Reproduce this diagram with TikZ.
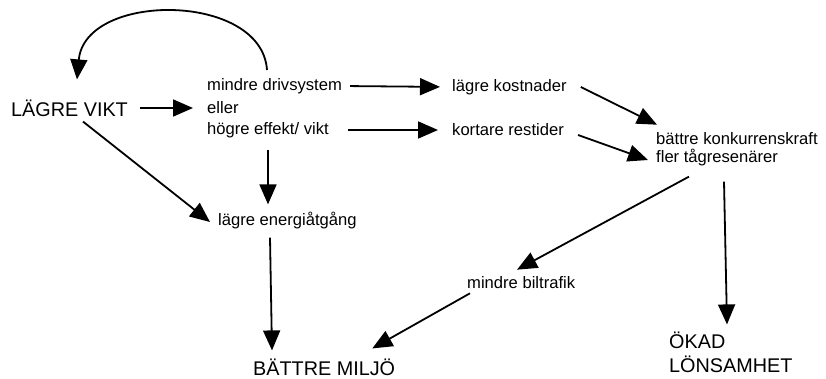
\documentclass[tikz,border=0pt]{standalone}
\usepackage{fontspec}
\setmainfont{Liberation Sans}
\usetikzlibrary{arrows.meta}

\begin{document}
\begin{tikzpicture}[
  x=1pt, y=-1pt,
  txt/.style={inner sep=0pt, anchor=west, font=\fontsize{16.6}{22}\selectfont},
  big/.style={inner sep=0pt, anchor=west, align=left, font=\fontsize{19.8}{24}\selectfont},
  arr/.style={-{Triangle[length=20pt,width=17pt]}, line width=1.8pt}
]
\useasboundingbox[fill=white] (0,0) rectangle (826,379);

\node[big] (vikt) at (11,108) {LÄGRE VIKT};
\node[txt] (driv) at (207,86) {mindre drivsystem};
\node[txt] (eller) at (207,108) {eller};
\node[txt] (effekt) at (207,130) {högre effekt/ vikt};
\node[txt] (kost) at (452,87) {lägre kostnader};
\node[txt] (rest) at (452,130) {kortare restider};
\node[txt] (konk) at (656,139) {bättre konkurrenskraft};
\node[txt] (resen) at (656,158) {fler tågresenärer};
\node[txt] (energi) at (218,221) {lägre energiåtgång};
\node[txt] (bil) at (467,283) {mindre biltrafik};
\node[big] (miljo) at (253,367) {BÄTTRE MILJÖ};
\node[big] (lons) at (669,352) {ÖKAD\\LÖNSAMHET};

\draw[arr, shorten <=12pt, shorten >=14pt] (vikt.east) -- (eller.west);
\draw[arr, shorten <=8pt, shorten >=12pt] (driv.east) -- (kost.west);
\draw[arr, shorten <=19pt, shorten >=14pt] (effekt.east) -- (rest.west);
\draw[arr] ([xshift=14pt]kost.east) -- ([xshift=1pt,yshift=8pt]konk.north west);
\draw[arr] ([xshift=14pt,yshift=-5pt]rest.east) -- ([xshift=-8pt,yshift=-2pt]resen.west);
\draw[arr] ([xshift=60pt,yshift=8pt]driv.north west)
  .. controls +(-5,-78) and +(8,-88) .. ([xshift=66pt,yshift=20pt]vikt.north west);
\draw[arr] ([xshift=61pt,yshift=-12pt]effekt.south west) -- ([xshift=50pt,yshift=8pt]energi.north west);
\draw[arr] ([xshift=72pt,yshift=-5pt]vikt.south west) -- ([xshift=-8pt,yshift=-1pt]energi.west);
\draw[arr] ([xshift=52pt,yshift=-8pt]energi.south west) -- ([xshift=19pt,yshift=8pt]miljo.north west);
\draw[arr] ([xshift=3pt,yshift=-4pt]bil.south west) -- ([xshift=-23pt,yshift=10pt]miljo.north east);
\draw[arr] ([xshift=33pt,yshift=-10pt]resen.south west) -- ([xshift=50pt,yshift=7pt]bil.north west);
\draw[arr] ([xshift=68pt,yshift=-15pt]resen.south west) -- ([xshift=58pt,yshift=7pt]lons.north west);
\end{tikzpicture}
\end{document}
